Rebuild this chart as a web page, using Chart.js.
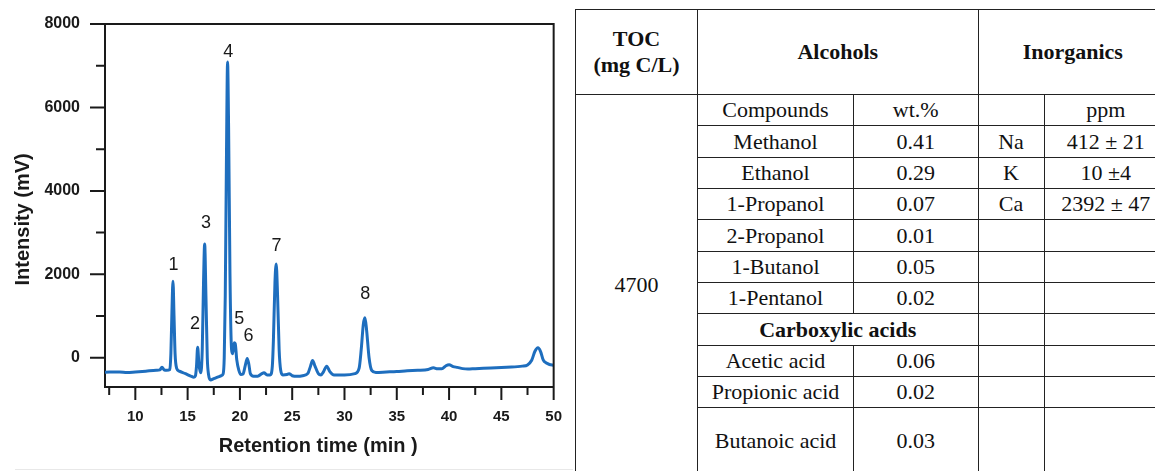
<!DOCTYPE html>
<html><head><meta charset="utf-8">
<script src="https://cdn.jsdelivr.net/npm/chart.js@4.4.0/dist/chart.umd.min.js"></script>
<style>
html,body{margin:0;padding:0;background:#fff;width:1155px;height:471px;overflow:hidden;position:relative}
#chartBox{position:absolute;left:0;top:0;width:570px;height:471px}
#sep{position:absolute;left:15px;top:469px;width:558px;height:1px;background:#e8e8e8}
#tbl{position:absolute;left:575px;top:8.5px;border-collapse:collapse;font-family:"Liberation Serif","Times New Roman",serif;font-size:22px;color:#111;table-layout:fixed;width:592px}
#tbl td,#tbl th{border:1.5px solid #222;text-align:center;padding:0;line-height:26px;overflow:hidden;white-space:nowrap}
#tbl th,#tbl td.b{font-weight:bold}
</style>
</head><body>
<div id="chartBox"><canvas id="c"></canvas></div>
<div id="sep"></div>
<table id="tbl"></table>
<script>
// ---- chromatogram data (retention time in min, intensity in mV) ----
const times = [7.1,8.5,9.2,10,11,12,12.35,12.55,12.75,13.0,13.3,13.4,13.5,13.6,13.7,13.8,13.95,14.2,14.8,15.3,15.6,15.75,15.85,15.96,16.08,16.25,16.4,16.52,16.63,16.75,16.88,17.0,17.2,17.5,17.8,18.0,18.2,18.4,18.5,18.6,18.72,18.82,18.92,19.05,19.2,19.3,19.45,19.55,19.7,19.9,20.1,20.3,20.5,20.7,20.85,21.0,21.3,21.7,22.1,22.3,22.6,22.9,23.1,23.2,23.35,23.47,23.6,23.75,23.9,24.1,24.5,24.7,25.0,25.5,26.0,26.5,26.75,26.95,27.15,27.5,27.75,28.0,28.3,28.6,29.0,30.0,31.0,31.4,31.6,31.8,31.95,32.1,32.35,32.6,33.0,34.0,35.0,36.0,37.0,38.0,38.5,38.9,39.3,39.7,40.0,40.4,40.8,41.3,41.8,42.5,44.0,45.5,47.0,47.5,47.9,48.2,48.5,48.75,49.0,49.3,49.6,50.0];
const intensity = [-345,-340,-355,-340,-320,-300,-290,-225,-290,-300,-280,100,1100,1836,1000,100,-250,-320,-380,-440,-465,-430,-200,255,-150,-360,200,1800,2730,1500,0,-400,-530,-500,-470,-450,-430,-380,0,1500,5000,7090,5500,2000,200,96,360,340,-50,-300,-400,-390,-200,-16,-150,-380,-440,-440,-380,-360,-410,-410,-200,400,1800,2250,1500,200,-300,-410,-400,-380,-430,-445,-430,-375,-200,-64,-180,-380,-410,-330,-200,-330,-410,-410,-380,-250,200,800,958,700,0,-300,-350,-340,-330,-310,-300,-280,-240,-265,-265,-190,-165,-210,-230,-260,-270,-260,-245,-225,-200,-170,-60,150,240,150,-50,-125,-160,-180];
const yMajorTicks = [0,2000,4000,6000,8000];
const yMinorTicks = [1000,3000,5000,7000];
const xMajorTicks = [10,15,20,25,30,35,40,45,50];
const xMinorTicks = [7.5,12.5,17.5,22.5,27.5,32.5,37.5,42.5,47.5];
const peakLabels = ['1','2','3','4','5','6','7','8'];
const peakLabelTimes = [13.65,15.71,16.76,18.88,19.93,20.83,23.49,31.99];
const peakLabelIntensity = [2220,800,3220,7340,920,510,2690,1540];
const xTitle = 'Retention time (min )';
const yTitle = 'Intensity (mV)';

// ---- table data ----
const tocValue = '4700';
const headers = ['TOC\n(mg C/L)','Alcohols','Inorganics'];
const alcoholNames = ['Methanol','Ethanol','1-Propanol','2-Propanol','1-Butanol','1-Pentanol'];
const alcoholWt = ['0.41','0.29','0.07','0.01','0.05','0.02'];
const acidNames = ['Acetic acid','Propionic acid','Butanoic acid'];
const acidWt = ['0.06','0.02','0.03'];
const elements = ['Na','K','Ca'];
const elementPpm = ['412 \u00b1 21','10 \u00b14','2392 \u00b1 47'];

// build table
(function(){
  const t = document.getElementById('tbl');
  const cg = document.createElement('colgroup');
  [122,156,124.5,66,123.5].forEach(w=>{const c=document.createElement('col');c.style.width=w+'px';cg.appendChild(c);});
  t.appendChild(cg);
  const row = (h)=>{const r=document.createElement('tr');r.style.height=h+'px';t.appendChild(r);return r;};
  const cell = (r,txt,opt={})=>{const c=document.createElement(opt.th?'th':'td');c.textContent=txt;if(opt.cs)c.colSpan=opt.cs;if(opt.rs)c.rowSpan=opt.rs;if(opt.b)c.className='b';if(opt.pre)c.style.whiteSpace='pre-line';r.appendChild(c);return c;};
  let r = row(85.5);
  cell(r,headers[0],{th:1,pre:1}); cell(r,headers[1],{th:1,cs:2}); cell(r,headers[2],{th:1,cs:2});
  const body = [];
  body.push(['Compounds','wt.%','','ppm']);
  alcoholNames.forEach((n,i)=>body.push([n,alcoholWt[i],elements[i]||'',elementPpm[i]||'']));
  body.push(['#Carboxylic acids','','','']);
  acidNames.forEach((n,i)=>body.push([n,acidWt[i],'','']));
  body.forEach((b,i)=>{
    const h = i===body.length-1 ? 67 : 31.35;
    r = row(h);
    if(i===0) cell(r,tocValue,{rs:body.length});
    if(b[0].startsWith('#')) cell(r,b[0].slice(1),{cs:2,b:1});
    else { cell(r,b[0]); cell(r,b[1]); }
    cell(r,b[2]); cell(r,b[3]);
  });
})();

const AXIS = '#1a1a1a';
const decor = {
  id:'decor',
  afterDraw(chart){
    const {ctx, chartArea:a, scales:{x,y}} = chart;
    ctx.save();
    ctx.strokeStyle = AXIS; ctx.lineWidth = 2;
    ctx.beginPath();
    ctx.moveTo(a.left-1, a.top); ctx.lineTo(a.right, a.top); ctx.lineTo(a.right, a.bottom+1);
    yMajorTicks.forEach(v=>{const p=y.getPixelForValue(v); ctx.moveTo(a.left-15,p); ctx.lineTo(a.left,p);});
    yMinorTicks.forEach(v=>{const p=y.getPixelForValue(v); ctx.moveTo(a.left-9,p); ctx.lineTo(a.left,p);});
    xMajorTicks.forEach(v=>{const p=x.getPixelForValue(v); ctx.moveTo(p,a.bottom); ctx.lineTo(p,a.bottom+13);});
    xMinorTicks.forEach(v=>{const p=x.getPixelForValue(v); ctx.moveTo(p,a.bottom); ctx.lineTo(p,a.bottom+8);});
    ctx.stroke();
    ctx.fillStyle = '#1a1a1a';
    ctx.font = '18px "Liberation Sans", Arial, sans-serif';
    ctx.textAlign = 'center'; ctx.textBaseline = 'middle';
    peakLabels.forEach((t,i)=>ctx.fillText(t, x.getPixelForValue(peakLabelTimes[i]), y.getPixelForValue(peakLabelIntensity[i])));
    ctx.restore();
  }
};

const FONT = '"Liberation Sans", Arial, sans-serif';
new Chart(document.getElementById('c'), {
  type:'line',
  data:{datasets:[{
    data: times.map((t,i)=>({x:t,y:intensity[i]})),
    borderColor:'#1e6ebe', borderWidth:3, pointRadius:0, fill:false,
    cubicInterpolationMode:'monotone'
  }]},
  options:{
    animation:false, responsive:true, maintainAspectRatio:false,
    layout:{padding:{top:24,right:15,left:0,bottom:0}},
    plugins:{legend:{display:false},tooltip:{enabled:false}},
    scales:{
      x:{type:'linear',min:7.1,max:50,
        afterFit:s=>{s.height=84;},
        afterBuildTicks:s=>{s.ticks = xMajorTicks.map(v=>({value:v}));},
        grid:{display:true,drawOnChartArea:false,drawTicks:true,tickLength:13,color:'transparent'},
        border:{display:true,color:AXIS,width:2},
        ticks:{autoSkip:false,maxRotation:0,padding:8,color:'#1a1a1a',callback:v=>String(v),
          font:{family:FONT,size:15,weight:'bold'}},
        title:{display:true,text:xTitle+'    ',color:'#1a1a1a',padding:{top:0,bottom:13},
          font:{family:FONT,size:20,weight:'bold'}}
      },
      y:{min:-700,max:8000,
        afterFit:s=>{s.width=105;},
        afterBuildTicks:s=>{s.ticks = yMajorTicks.map(v=>({value:v}));},
        grid:{display:true,drawOnChartArea:false,drawTicks:true,tickLength:15,color:'transparent'},
        border:{display:true,color:AXIS,width:2},
        ticks:{padding:10,color:'#1a1a1a',callback:v=>String(v),
          font:{family:FONT,size:16,weight:'bold'}},
        title:{display:true,text:yTitle+'     ',color:'#1a1a1a',padding:{top:11,bottom:0},
          font:{family:FONT,size:20,weight:'bold'}}
      }
    }
  },
  plugins:[decor]
});
</script>
</body></html>
